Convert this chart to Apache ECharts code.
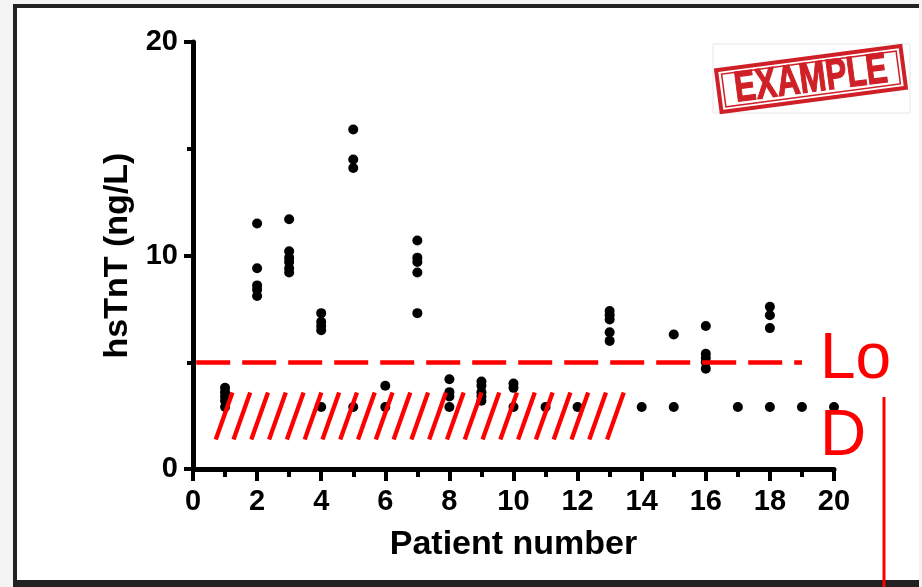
<!DOCTYPE html>
<html>
<head>
<meta charset="utf-8">
<script src="https://cdn.jsdelivr.net/npm/echarts@6/dist/echarts.min.js"></script>
<style>
html,body{margin:0;padding:0;background:#f3f3f3;}
#chart{width:922px;height:587px;}
</style>
</head>
<body>
<div id="chart"></div>
<script>
// ---- Data ----
const patientNumbers = [1,2,3,4,5,6,7,8,9,10,11,12,13,14,15,16,17,18,19,20];
const hsTnTValues = [
  [3.8, 3.6, 3.4, 3.2, 2.9],
  [11.5, 9.4, 8.6, 8.4, 8.1],
  [11.7, 10.2, 9.9, 9.7, 9.4, 9.2],
  [7.3, 6.9, 6.7, 6.5, 2.9],
  [15.9, 14.5, 14.1, 2.9],
  [3.9, 2.9],
  [10.7, 9.9, 9.7, 9.2, 7.3],
  [4.2, 3.6, 3.4, 2.9],
  [4.1, 3.9, 3.6, 3.4, 3.2],
  [4.0, 3.8, 2.9],
  [2.9],
  [2.9],
  [7.4, 7.2, 7.0, 6.4, 6.0],
  [2.9],
  [6.3, 2.9],
  [6.7, 5.4, 5.2, 5.0, 4.7],
  [2.9],
  [7.6, 7.2, 6.6, 2.9],
  [2.9],
  [2.9]
];
const xTickValues = [0,2,4,6,8,10,12,14,16,18,20];
const yTickValues = [0,10,20];
const lodValue = 5;                 // limit of detection level
const lodLineSpan = [0.1, 19.0];    // patient-number span of the dashed LoD line
const hatchBand = {xFrom: 0.71, xTo: 12.92, yFrom: 1.38, yTo: 3.58, lean: 0.52, lines: 23};

// ---- Build series data ----
const points = [];
patientNumbers.forEach((p, i) => {
  hsTnTValues[i].forEach(v => points.push([p, v]));
});

const FONT = '"Liberation Sans", Arial, sans-serif';
const STAMP = '#cf1f27';
const ROT = 7.5 * Math.PI / 180;
const chart = echarts.init(document.getElementById('chart'), null, {renderer: 'canvas'});

const option = {
  backgroundColor: '#f3f3f3',
  animation: false,
  grid: {left: 193, right: 88, top: 42, bottom: 118, containLabel: false},
  xAxis: {
    type: 'value', min: 0, max: 20, interval: 2,
    name: 'Patient number', nameLocation: 'middle', nameGap: 59,
    nameTextStyle: {fontFamily: FONT, fontWeight: 'bold', fontSize: 34, color: '#000'},
    axisLine: {show: true, onZero: false, lineStyle: {color: '#000', width: 5}},
    axisTick: {show: true, length: 12, lineStyle: {color: '#000', width: 4}},
    minorTick: {show: true, splitNumber: 2, length: 8, lineStyle: {color: '#000', width: 4}},
    splitLine: {show: false},
    axisLabel: {fontFamily: FONT, fontWeight: 'bold', fontSize: 29, color: '#000', margin: 18,
      formatter: v => xTickValues.includes(v) ? String(v) : ''}
  },
  yAxis: {
    type: 'value', min: 0, max: 20, interval: 10,
    name: 'hsTnT (ng/L)', nameLocation: 'middle', nameGap: 58,
    nameTextStyle: {fontFamily: FONT, fontWeight: 'bold', fontSize: 34, color: '#000'},
    axisLine: {show: true, onZero: false, lineStyle: {color: '#000', width: 5}},
    axisTick: {show: true, length: 9, lineStyle: {color: '#000', width: 4}},
    minorTick: {show: true, splitNumber: 2, length: 6, lineStyle: {color: '#000', width: 4}},
    splitLine: {show: false},
    axisLabel: {fontFamily: FONT, fontWeight: 'bold', fontSize: 29, color: '#000', margin: 15,
      formatter: v => yTickValues.includes(v) ? String(v) : ''}
  },
  graphic: [
    {type: 'rect', z: -100, shape: {x: 15, y: 6, width: 930, height: 577},
      style: {fill: '#fff', stroke: '#222', lineWidth: 4}},
    {type: 'rect', z: -99, shape: {x: 13, y: 580, width: 910, height: 7}, style: {fill: '#222'}},
    {type: 'rect', z: -98, shape: {x: 919, y: 0, width: 3, height: 587}, style: {fill: '#f3f3f3'}},
    // EXAMPLE stamp picture
    {type: 'rect', z: 9, shape: {x: 713, y: 44, width: 197, height: 69},
      style: {fill: '#fff', stroke: '#e6e6e6', lineWidth: 1}},
    {type: 'rect', z: 12, x: 811, y: 79, rotation: ROT,
      shape: {x: -93, y: -21, width: 186, height: 42},
      style: {fill: 'none', stroke: STAMP, lineWidth: 4}},
    {type: 'rect', z: 12, x: 811, y: 79, rotation: ROT,
      shape: {x: -88, y: -16.5, width: 176, height: 33},
      style: {fill: 'none', stroke: STAMP, lineWidth: 1.5}},
    {type: 'text', z: 12, x: 811, y: 80, rotation: ROT, scaleX: 0.74,
      style: {text: 'EXAMPLE', fontFamily: FONT, fontWeight: 'bold', fontSize: 43,
        fill: STAMP, stroke: STAMP, lineWidth: 1.2, align: 'center', verticalAlign: 'middle'}},
    // LoD annotation
    {type: 'text', z: 20, x: 820, y: 360,
      style: {text: 'Lo', fontFamily: FONT, fontSize: 64, fill: '#ff0000', align: 'left', verticalAlign: 'middle'}},
    {type: 'text', z: 20, x: 820, y: 437,
      style: {text: 'D', fontFamily: FONT, fontSize: 64, fill: '#ff0000', align: 'left', verticalAlign: 'middle'}},
    {type: 'line', z: 20, shape: {x1: 884, y1: 397, x2: 884, y2: 587},
      style: {stroke: '#ff0000', lineWidth: 3}}
  ],
  series: [
    {
      type: 'scatter', name: 'hsTnT', z: 3,
      data: points, symbol: 'circle', symbolSize: 10,
      itemStyle: {color: '#000', opacity: 1},
      markLine: {
        silent: true, symbol: 'none', z: 6,
        label: {show: false},
        lineStyle: {color: '#ff0000', width: 4.5, type: [34, 12], opacity: 1},
        data: [[{coord: [lodLineSpan[0], lodValue]}, {coord: [lodLineSpan[1], lodValue]}]]
      }
    },
    {
      type: 'custom', name: 'below LoD', z: 5, silent: true,
      data: [[hatchBand.xFrom, hatchBand.yFrom]],
      renderItem: function (params, api) {
        const children = [];
        const step = (hatchBand.xTo - hatchBand.xFrom) / (hatchBand.lines - 1);
        for (let i = 0; i < hatchBand.lines; i++) {
          const x0 = hatchBand.xFrom + i * step;
          const a = api.coord([x0, hatchBand.yFrom]);
          const b = api.coord([x0 + hatchBand.lean, hatchBand.yTo]);
          children.push({type: 'line', shape: {x1: a[0], y1: a[1], x2: b[0], y2: b[1]},
            style: {stroke: '#ff0000', lineWidth: 4.3}});
        }
        return {type: 'group', children: children};
      }
    }
  ]
};
chart.setOption(option);
</script>
</body>
</html>
